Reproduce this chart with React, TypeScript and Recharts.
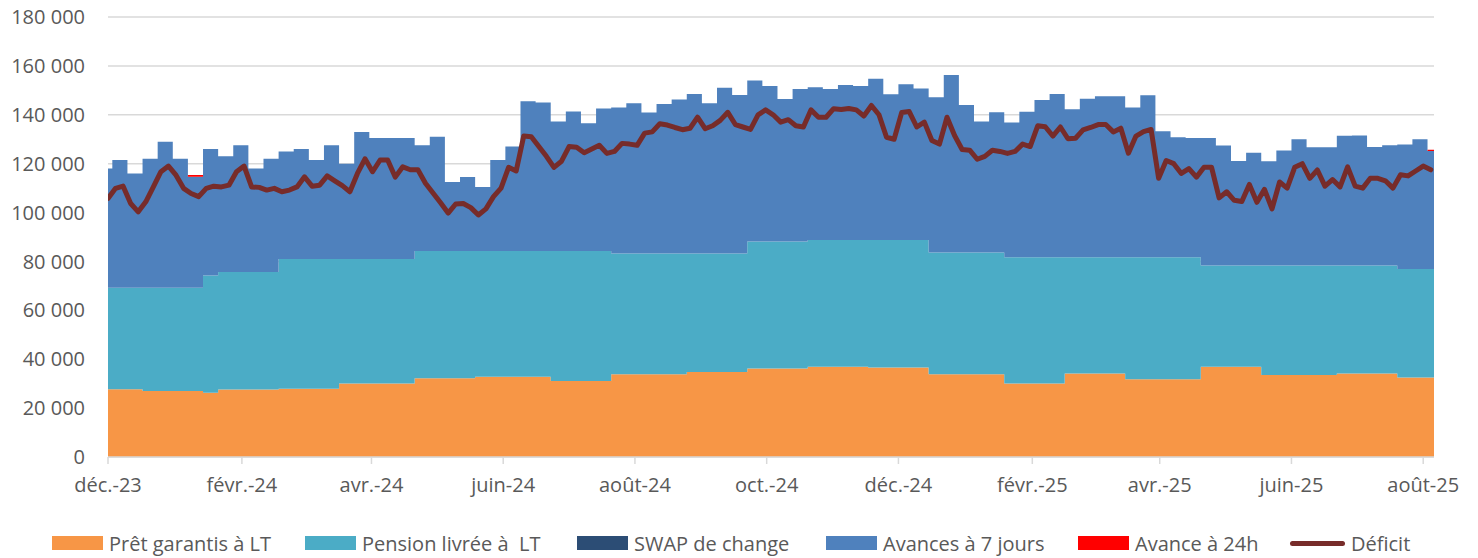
import { ComposedChart, Area, Line, XAxis, YAxis, CartesianGrid } from 'recharts'

// weekly series (MDH) – week 0 starts on 1 Dec 2023, the following ones every 7 days from 3 Dec
const prets = [
  27700, 27700, 27700, 27000, 27000, 27000, 27000, 26300, 27600, 27600,
  27600, 27600, 27900, 27900, 27900, 27900, 30100, 30100, 30100, 30100,
  30100, 32200, 32200, 32200, 32200, 32800, 32800, 32800, 32800, 32800,
  31100, 31100, 31100, 31100, 33900, 33900, 33900, 33900, 33900, 34800,
  34800, 34800, 34800, 36200, 36200, 36200, 36200, 36900, 36900, 36900,
  36900, 36600, 36600, 36600, 36600, 33900, 33900, 33900, 33900, 33900,
  30100, 30100, 30100, 30100, 34200, 34200, 34200, 34200, 31800, 31800,
  31800, 31800, 31800, 36900, 36900, 36900, 36900, 33500, 33500, 33500,
  33500, 33500, 34200, 34200, 34200, 34200, 32500, 32500, 32500,
]

const pensions = [
  41500, 41500, 41500, 42200, 42200, 42200, 42200, 48000, 48100, 48100,
  48100, 48100, 53100, 53100, 53100, 53100, 50900, 50900, 50900, 50900,
  50900, 52100, 52100, 52100, 52100, 51500, 51500, 51500, 51500, 51500,
  53200, 53200, 53200, 53200, 49400, 49400, 49400, 49400, 49400, 48500,
  48500, 48500, 48500, 52000, 52000, 52000, 52000, 51900, 51900, 51900,
  51900, 52200, 52200, 52200, 52200, 49800, 49800, 49800, 49800, 49800,
  51600, 51600, 51600, 51600, 47500, 47500, 47500, 47500, 49900, 49900,
  49900, 49900, 49900, 41400, 41400, 41400, 41400, 44800, 44800, 44800,
  44800, 44800, 44100, 44100, 44100, 44100, 44400, 44400, 44400,
]

const swaps = [
  0, 0, 0, 0, 0, 0, 0, 0, 0, 0,
  0, 0, 0, 0, 0, 0, 0, 0, 0, 0,
  0, 0, 0, 0, 0, 0, 0, 0, 0, 0,
  0, 0, 0, 0, 0, 0, 0, 0, 0, 0,
  0, 0, 0, 0, 0, 0, 0, 0, 0, 0,
  0, 0, 0, 0, 0, 0, 0, 0, 0, 0,
  0, 0, 0, 0, 0, 0, 0, 0, 0, 0,
  0, 0, 0, 0, 0, 0, 0, 0, 0, 0,
  0, 0, 0, 0, 0, 0, 0, 0, 0,
]

const avances7j = [
  48800, 52300, 46800, 52800, 59800, 52800, 45400, 51700, 47300, 51800,
  42300, 46300, 44000, 45000, 40500, 46500, 39000, 52000, 49500, 49500,
  49500, 43200, 46700, 28200, 30200, 26200, 37200, 42700, 61200, 60700,
  52900, 57000, 52200, 58300, 59700, 61400, 57600, 61100, 63000, 65200,
  61400, 67800, 64800, 65800, 63600, 58300, 62300, 62500, 61700, 63400,
  63000, 65900, 59600, 63700, 62000, 63500, 72600, 60300, 53500, 57300,
  55100, 59500, 64300, 66800, 60600, 64900, 65900, 65900, 61300, 66300,
  51600, 49100, 48800, 52200, 49100, 42800, 46200, 42700, 47100, 51700,
  48400, 48400, 53100, 53200, 48500, 49200, 50900, 53100, 48300,
]

const avances24h = [
  0, 0, 0, 0, 0, 0, 800, 0, 0, 0,
  0, 0, 0, 0, 0, 0, 0, 0, 0, 0,
  0, 0, 0, 0, 0, 0, 0, 0, 0, 0,
  0, 0, 0, 0, 0, 0, 0, 0, 0, 0,
  0, 0, 0, 0, 0, 0, 0, 0, 0, 0,
  0, 0, 0, 0, 0, 0, 0, 0, 0, 0,
  0, 0, 0, 0, 0, 0, 0, 0, 0, 0,
  0, 0, 0, 0, 0, 0, 0, 0, 0, 0,
  0, 0, 0, 0, 0, 0, 0, 0, 500,
]

// déficit, read every 3.5 days from 1 Dec 2023
const deficit = [
  105800, 109900, 110800, 103700, 100300, 104400, 110500, 116700, 119000, 115300,
  109900, 107800, 106500, 109900, 110800, 110500, 111200, 116700, 119000, 110500,
  110300, 109200, 109900, 108500, 109200, 110500, 114600, 110800, 111200, 115000,
  113000, 111000, 108500, 116000, 122000, 116700, 121500, 121500, 114500, 118700,
  117500, 117500, 112000, 108000, 104000, 99800, 103500, 103700, 102000, 99000,
  101500, 106500, 110000, 118500, 117000, 131300, 131000, 127000, 123000, 118500,
  121000, 127000, 126700, 124500, 126000, 127500, 124200, 125000, 128300, 128000,
  127500, 132500, 133000, 136300, 135800, 134800, 133900, 134500, 139000, 134300,
  135500, 137700, 141000, 136000, 135000, 134000, 140000, 142000, 140000, 137000,
  138000, 135500, 135000, 142000, 139000, 139000, 142500, 142200, 142600, 142000,
  139500, 143800, 140000, 130800, 130000, 140900, 141300, 135000, 137000, 129500,
  128000, 139000, 131500, 125800, 125500, 121800, 123000, 125500, 125000, 124200,
  125000, 128000, 127000, 135500, 135100, 131300, 135000, 130200, 130400, 133800,
  134800, 136000, 136000, 133000, 134500, 124300, 131300, 133100, 134000, 114000,
  121300, 120000, 116000, 118000, 114500, 118500, 118500, 106000, 108500, 105000,
  104500, 111500, 104200, 109500, 101500, 112500, 110000, 118500, 120000, 114000,
  117400, 110800, 113500, 110500, 118700, 110800, 110000, 114000, 114000, 113000,
  110000, 115500, 115000, 117000, 119000, 117500,
]

const tickDates = [
  '2023-12-01', '2024-02-01', '2024-04-01', '2024-06-01', '2024-08-01', '2024-10-01',
  '2024-12-01', '2025-02-01', '2025-04-01', '2025-06-01', '2025-08-01',
]
const tickLabels = [
  'déc.-23', 'févr.-24', 'avr.-24', 'juin-24', 'août-24', 'oct.-24',
  'déc.-24', 'févr.-25', 'avr.-25', 'juin-25', 'août-25',
]
const yTicks = [0, 20000, 40000, 60000, 80000, 100000, 120000, 140000, 160000, 180000]

const LAST_DAY = 614

const START = Date.UTC(2023, 11, 1)
const dayOf = (iso: string) => Math.round((Date.parse(iso) - START) / 86400000)
const xTicks = tickDates.map(dayOf)

const weekDay = (k: number) => (k === 0 ? 0 : 7 * k - 5)

const rows = prets.map((p, k) => ({
  d: weekDay(k),
  pret: p,
  pension: pensions[k],
  swap: swaps[k],
  av7: avances7j[k],
  av24: avances24h[k],
}))
// close the last step at the right edge
rows.push({ ...rows[rows.length - 1], d: LAST_DAY })

const deficitRows = deficit.map((v, j) => ({ d: j * 3.5, deficit: v }))

const COLORS = {
  pret: '#F79646',
  pension: '#4BACC6',
  swap: '#2C4D75',
  av7: '#4F81BD',
  av24: '#FF0000',
  deficit: '#772C2A',
}

const FONT = '"Open Sans", sans-serif'
const GREY = '#595959'

const fmt = (v: number) => String(v).replace(/\B(?=(\d{3})+(?!\d))/g, ' ')

const legendItems = [
  { label: 'Prêt garantis à LT', color: COLORS.pret, left: 52, line: false },
  { label: 'Pension livrée à \u00a0LT', color: COLORS.pension, left: 305, line: false },
  { label: 'SWAP de change', color: COLORS.swap, left: 577, line: false },
  { label: 'Avances à 7 jours', color: COLORS.av7, left: 826, line: false },
  { label: 'Avance à 24h', color: COLORS.av24, left: 1078, line: false },
  { label: 'Déficit', color: COLORS.deficit, left: 1290, line: true },
]

export default function App() {
  return (
    <div style={{ position: 'relative', width: 1478, height: 558, background: '#fff', fontFamily: FONT }}>
      <style>{'body{margin:0}'}</style>
      <ComposedChart
        width={1478}
        height={558}
        data={rows}
        margin={{ top: 17, right: 44, bottom: 0, left: 0 }}
      >
        <CartesianGrid vertical={false} stroke="#D9D9D9" strokeWidth={1.5} />
        <XAxis
          dataKey="d"
          type="number"
          domain={[0, LAST_DAY]}
          ticks={xTicks}
          tickFormatter={(v: number) => tickLabels[xTicks.indexOf(v)] ?? ''}
          height={101}
          axisLine={{ stroke: '#D9D9D9', strokeWidth: 1.5 }}
          tickLine={{ stroke: '#D9D9D9', strokeWidth: 1.5 }}
          tickSize={7}
          tickMargin={14}
          tick={{ fill: GREY, fontSize: 20, fontFamily: FONT }}
          interval={0}
          allowDataOverflow
        />
        <YAxis
          domain={[0, 180000]}
          ticks={yTicks}
          tickFormatter={fmt}
          width={108}
          axisLine={false}
          tickLine={false}
          tickSize={6}
          tickMargin={17}
          tick={{ fill: GREY, fontSize: 20, fontFamily: FONT }}
          interval={0}
        />
        <Area type="stepAfter" dataKey="pret" stackId="s" stroke="none" fill={COLORS.pret} fillOpacity={1} isAnimationActive={false} activeDot={false} />
        <Area type="stepAfter" dataKey="pension" stackId="s" stroke="none" fill={COLORS.pension} fillOpacity={1} isAnimationActive={false} activeDot={false} />
        <Area type="stepAfter" dataKey="swap" stackId="s" stroke="none" fill={COLORS.swap} fillOpacity={1} isAnimationActive={false} activeDot={false} />
        <Area type="stepAfter" dataKey="av7" stackId="s" stroke="none" fill={COLORS.av7} fillOpacity={1} isAnimationActive={false} activeDot={false} />
        <Area type="stepAfter" dataKey="av24" stackId="s" stroke="none" fill={COLORS.av24} fillOpacity={1} isAnimationActive={false} activeDot={false} />
        <Line
          data={deficitRows}
          dataKey="deficit"
          type="linear"
          stroke={COLORS.deficit}
          strokeWidth={5}
          strokeLinejoin="round"
          strokeLinecap="round"
          dot={false}
          activeDot={false}
          isAnimationActive={false}
        />
      </ComposedChart>

      {legendItems.map(item => (
        <div
          key={item.label}
          style={{
            position: 'absolute',
            left: item.left,
            top: 529,
            height: 28,
            display: 'flex',
            alignItems: 'center',
            gap: 6,
            fontSize: 20,
            color: GREY,
            whiteSpace: 'pre',
          }}
        >
          {item.line ? (
            <span style={{ display: 'inline-block', width: 55, height: 5, borderRadius: 3, background: item.color }} />
          ) : (
            <span style={{ display: 'inline-block', width: 51, height: 14, background: item.color }} />
          )}
          <span>{item.label}</span>
        </div>
      ))}
    </div>
  )
}
